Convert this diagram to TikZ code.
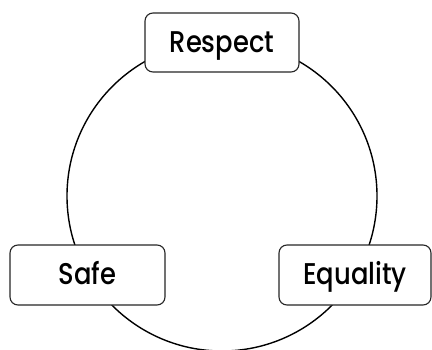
\documentclass[tikz,border=0pt]{standalone}
\usepackage{fontspec}
\setmainfont{Poppins Medium}
\newcommand{\lbltext}[1]{\scalebox{0.86}[1]{#1}}
\begin{document}
\begin{tikzpicture}[x=1pt,y=1pt,
  lbl/.style={draw=black!85, line width=1.1pt, fill=white, rounded corners=8pt,
    minimum height=60pt, inner sep=0pt, text height=21.5pt, text depth=2pt,
    font=\fontsize{30}{34}\selectfont}]
\useasboundingbox (0,0) rectangle (432,349);
\begin{scope}
\clip (0,0) rectangle (432,349);
\node[circle, draw=black, line width=1.4pt, minimum size=310pt, inner sep=0pt] (ring) at (222,153) {};
\end{scope}
\node[lbl, minimum width=154pt, minimum height=59pt] (respect) at (222,306.5) {\lbltext{Respect}};
\node[lbl, minimum width=155pt] (safe) at (87.5,74) {\lbltext{Safe}};
\node[lbl, minimum width=152pt] (equality) at (355,74) {\lbltext{Equality}};
\end{tikzpicture}
\end{document}
